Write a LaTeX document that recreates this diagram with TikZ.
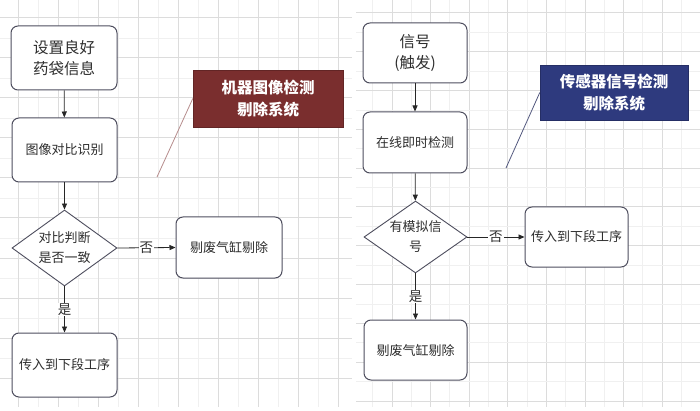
\documentclass[tikz,border=0pt]{standalone}
\usepackage{fontspec}
\setmainfont{Noto Sans CJK SC}
\usetikzlibrary{shapes.geometric,arrows.meta}
\definecolor{boxline}{HTML}{4E4E5E}
\definecolor{txtc}{HTML}{2E2E2E}
\definecolor{maroon}{HTML}{7A2E2E}
\definecolor{navy}{HTML}{2E3A7E}
\definecolor{gminor}{HTML}{F0F0F0}
\definecolor{gmajor}{HTML}{DCDCDC}
\tikzset{
  box/.style={draw=boxline, line width=1pt, rounded corners=7pt, fill=white, text=txtc, align=center, font=\fontsize{13}{20}\selectfont, inner sep=0pt},
  dia/.style={diamond, draw=boxline, line width=0.9pt, fill=white, inner sep=0pt},
  diatxt/.style={text=txtc, align=center, font=\fontsize{13}{20}\selectfont},
  callout/.style={text=white, align=center, font=\fontsize{15.5}{22}\selectfont\bfseries, inner sep=0pt},
  arr/.style={draw=black!85, line width=0.8pt, -{Triangle[length=6pt,width=5pt]}},
  lbl/.style={fill=white, text=txtc, inner sep=1pt, font=\fontsize{13.5}{15}\selectfont},
}
\begin{document}
\begin{tikzpicture}[x=1pt,y=-1pt]
\useasboundingbox (0,0) rectangle (700,411);
\fill[white] (0,0) rectangle (700,411);
% left grid
\begin{scope}
\clip (0,0) rectangle (352,407);
\foreach \k in {-2,38,...,360} {\draw[gminor, line width=0.8pt] (\k,0) -- (\k,407); \draw[gminor, line width=0.8pt] (0,\k) -- (352,\k);}
\foreach \k in {18,58,...,360} {\draw[gmajor, line width=1pt] (\k,0) -- (\k,407);}
\foreach \k in {18,58,...,400} {\draw[gmajor, line width=1pt] (0,\k) -- (352,\k);}
\end{scope}
% right grid
\begin{scope}
\clip (356,0) rectangle (700,407);
\foreach \k in {0,...,9} {
  \draw[gminor, line width=0.8pt] ({372.6+38.6*\k},0) -- ({372.6+38.6*\k},407);
  \draw[gmajor, line width=1pt] ({353.4+38.6*\k},0) -- ({353.4+38.6*\k},407);
}
\foreach \k in {0,...,10} {
  \draw[gminor, line width=0.8pt] (356,{32.4+38.8*\k}) -- (700,{32.4+38.8*\k});
  \draw[gmajor, line width=1pt] (356,{13+38.8*\k}) -- (700,{13+38.8*\k});
}
\end{scope}

% ---------- left flow ----------
\node[box, minimum width=106pt, minimum height=64pt, font=\fontsize{15.5}{21}\selectfont] (L1) at (64,58) {设置良好\\药袋信息};
\node[box, minimum width=105pt, minimum height=64pt] (L2) at (64.5,150) {图像对比识别};
\node[dia, minimum width=105pt, minimum height=76pt] (LD) at (64.5,248) {};
\node[diatxt] at (LD) {对比判断\\是否一致};
\node[box, minimum width=106pt, minimum height=61pt] (L3) at (229,247.5) {剔废气缸剔除};
\node[box, minimum width=105pt, minimum height=64pt] (L4) at (64.5,365) {传入到下段工序};
\node[callout, fill=maroon, draw=maroon!80!black, minimum width=150pt, minimum height=57pt] (LC) at (268,98.5) {机器图像检测\\剔除系统};
\coordinate (LCend) at (157,177);
\draw[maroon!55, line width=0.8pt] (LC.west) -- (LCend);

\draw[arr] (L1) -- (L2);
\draw[arr] (L2) -- (LD);
\draw[arr] (LD.east) -- node[lbl]{否} (L3.west);
\draw[arr] (LD.south) -- node[lbl]{是} (L4.north);

% ---------- right flow ----------
\node[box, minimum width=104pt, minimum height=60pt, font=\fontsize{15.5}{21}\selectfont] (R1) at (415,53) {信号\\(触发)};
\node[box, minimum width=104pt, minimum height=61pt] (R2) at (415,142.5) {在线即时检测};
\node[dia, minimum width=103pt, minimum height=72pt] (RD) at (415.5,237) {};
\node[diatxt] at (RD) {有模拟信\\号};
\node[box, minimum width=103pt, minimum height=60pt] (R3) at (576.5,237) {传入到下段工序};
\node[box, minimum width=103pt, minimum height=60pt] (R4) at (415.5,350) {剔废气缸剔除};
\node[callout, fill=navy, draw=navy!80!black, minimum width=148pt, minimum height=55pt] (RC) at (614,92.5) {传感器信号检测\\剔除系统};
\coordinate (RCend) at (506,168);
\draw[navy!55!gray, line width=0.8pt] (RC.west) -- (RCend);

\draw[arr] (R1) -- (R2);
\draw[arr] (R2) -- (RD);
\draw[arr] (RD.east) -- node[lbl]{否} (R3.west);
\draw[arr] (RD.south) -- node[lbl]{是} (R4.north);
\end{tikzpicture}
\end{document}
